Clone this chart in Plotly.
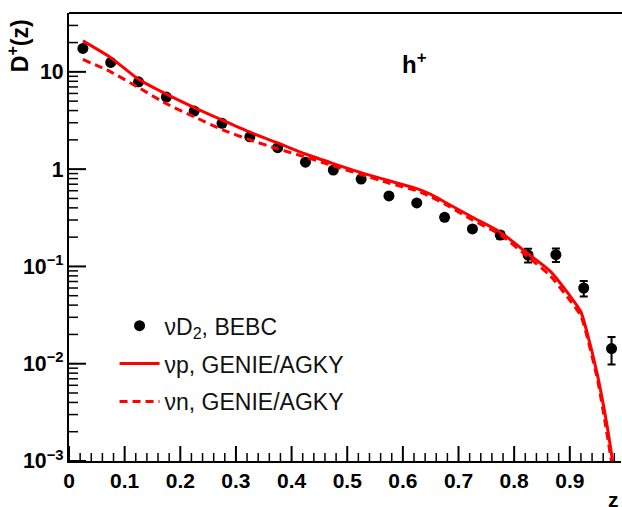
import plotly.graph_objects as go

# BEBC data (nu D2), h+
z_data = [0.025, 0.075, 0.125, 0.175, 0.225, 0.275, 0.325, 0.375, 0.425, 0.475,
          0.525, 0.575, 0.625, 0.675, 0.725, 0.775, 0.825, 0.875, 0.925, 0.975]
d_data = [17.4, 12.5, 7.9, 5.5, 3.95, 2.96, 2.15, 1.66, 1.18, 0.98,
          0.79, 0.53, 0.45, 0.32, 0.243, 0.21, 0.131, 0.132, 0.060, 0.0143]
d_err = [0.4, 0.3, 0.2, 0.12, 0.09, 0.07, 0.05, 0.04, 0.03, 0.03,
         0.025, 0.02, 0.02, 0.02, 0.015, 0.017, 0.021, 0.021, 0.011, 0.0045]

# GENIE/AGKY nu p
z_p = [0.025, 0.075, 0.125, 0.175, 0.225, 0.275, 0.325, 0.375, 0.425, 0.475,
       0.525, 0.575, 0.625, 0.65, 0.675, 0.725, 0.775, 0.825, 0.865, 0.9,
       0.92, 0.93, 0.95, 0.967, 0.978]
d_p = [20.8, 14.0, 8.4, 5.9, 4.3, 3.2, 2.4, 1.86, 1.43, 1.14,
       0.92, 0.76, 0.63, 0.55, 0.46, 0.32, 0.225, 0.135, 0.089, 0.05,
       0.034, 0.022, 0.0075, 0.0023, 0.0009]

# GENIE/AGKY nu n
z_n = [0.025, 0.075, 0.125, 0.175, 0.225, 0.275, 0.325, 0.375, 0.425, 0.475,
       0.525, 0.575, 0.625, 0.65, 0.675, 0.725, 0.775, 0.825, 0.865, 0.9,
       0.92, 0.93, 0.95, 0.965, 0.976]
d_n = [13.4, 10.0, 6.9, 4.7, 3.45, 2.55, 2.0, 1.62, 1.33, 1.08,
       0.88, 0.72, 0.60, 0.52, 0.44, 0.30, 0.212, 0.125, 0.080, 0.045,
       0.031, 0.020, 0.0068, 0.0022, 0.0009]

# tick positions
x_major = [round(i * 0.1, 1) for i in range(10)]
x_minor = [round(i * 0.02, 2) for i in range(50) if i % 5 != 0]
y_major = [10.0 ** e for e in range(-3, 2)]
y_minor = [m * 10.0 ** e for e in range(-3, 2) for m in range(2, 10)]

X_RANGE = [0, 0.992]
Y_RANGE = [-3, 1.605]

W, H = 622, 507
M_L, M_R, M_T, M_B = 69, 1, 13, 46
PLOT_W = W - M_L - M_R
PLOT_H = H - M_T - M_B

RED = "#ff0000"
FONT = "Liberation Sans, Arial, Helvetica, sans-serif"


def y_tick_segments(vals, length_px):
    dx = length_px * (X_RANGE[1] - X_RANGE[0]) / PLOT_W
    xs, ys = [], []
    for v in vals:
        if 10 ** Y_RANGE[0] <= v <= 10 ** Y_RANGE[1]:
            xs += [X_RANGE[0], X_RANGE[0] + dx, None]
            ys += [v, v, None]
    return xs, ys


def x_tick_segments(vals, length_px):
    dlog = length_px * (Y_RANGE[1] - Y_RANGE[0]) / PLOT_H
    xs, ys = [], []
    for v in vals:
        if X_RANGE[0] <= v <= X_RANGE[1]:
            xs += [v, v, None]
            ys += [10 ** Y_RANGE[0], 10 ** (Y_RANGE[0] + dlog), None]
    return xs, ys


fig = go.Figure()

# axis tick marks (ROOT style, pointing into the frame)
for segs, wid in [(y_tick_segments(y_major, 17), 2), (y_tick_segments(y_minor, 9), 1.5),
                  (x_tick_segments(x_major, 15), 2), (x_tick_segments(x_minor, 8), 1.5)]:
    fig.add_trace(go.Scatter(x=segs[0], y=segs[1], mode="lines",
                             line=dict(color="black", width=wid),
                             showlegend=False, hoverinfo="skip", cliponaxis=False))

fig.add_trace(go.Scatter(
    x=z_data, y=d_data, mode="markers", name="\u03bdD<sub>2</sub>, BEBC",
    marker=dict(color="black", size=11, symbol="circle"),
    error_y=dict(type="data", array=d_err, color="black", thickness=2, width=4),
    legendgroup="a"))
fig.add_trace(go.Scatter(
    x=z_p, y=d_p, mode="lines", name="\u03bdp, GENIE/AGKY",
    line=dict(color=RED, width=3, shape="spline", smoothing=0.6), legendgroup="b"))
fig.add_trace(go.Scatter(
    x=z_n, y=d_n, mode="lines", name="\u03bdn, GENIE/AGKY",
    line=dict(color=RED, width=3, dash="8px,5px", shape="spline", smoothing=0.6),
    legendgroup="c"))

fig.update_layout(
    width=W, height=H,
    margin=dict(l=M_L, r=M_R, t=M_T, b=M_B),
    plot_bgcolor="white",
    font=dict(family=FONT, color="black"),
    showlegend=True,
    legend=dict(x=0.0825, y=0.35, xanchor="left", yanchor="top",
                bgcolor="rgba(0,0,0,0)", font=dict(size=23, family=FONT, color="#111"),
                tracegroupgap=5, itemwidth=40),
    shapes=[dict(type="line", xref="paper", yref="paper", x0=0, x1=1.01, y0=1, y1=1,
                 line=dict(color="black", width=2))],
    annotations=[
        dict(text="<b>h<sup>+</sup></b>", x=0.625, y=0.888, xref="paper", yref="paper",
             showarrow=False, font=dict(size=24, family=FONT), xanchor="center", yanchor="middle"),
        dict(text="<b>D<sup>+</sup>(z)</b>", x=-0.092, y=0.99, xref="paper", yref="paper",
             showarrow=False, textangle=-90, font=dict(size=23, family=FONT),
             xanchor="center", yanchor="top"),
        dict(text="<b>z</b>", x=1.0, y=-0.085, xref="paper", yref="paper",
             showarrow=False, font=dict(size=21, family=FONT), xanchor="right", yanchor="middle"),
        dict(text="<b>1</b>", x=1.005, y=-0.028, xref="paper", yref="paper",
             showarrow=False, font=dict(size=21, family=FONT), xanchor="left", yanchor="top"),
    ],
)

fig.update_xaxes(
    range=X_RANGE, showgrid=False, zeroline=False,
    showline=True, linecolor="black", linewidth=2,
    ticks="", tickmode="array", tickvals=x_major,
    ticktext=["0"] + [f"{v:.1f}" for v in x_major[1:]],
    tickfont=dict(size=21, family=FONT, weight="bold"),
)
fig.update_yaxes(
    type="log", range=Y_RANGE, showgrid=False, zeroline=False,
    showline=True, linecolor="black", linewidth=2,
    ticks="", dtick=1, exponentformat="power",
    tickfont=dict(size=17, family=FONT, weight="bold"),
)

fig.write_html("out.html")
